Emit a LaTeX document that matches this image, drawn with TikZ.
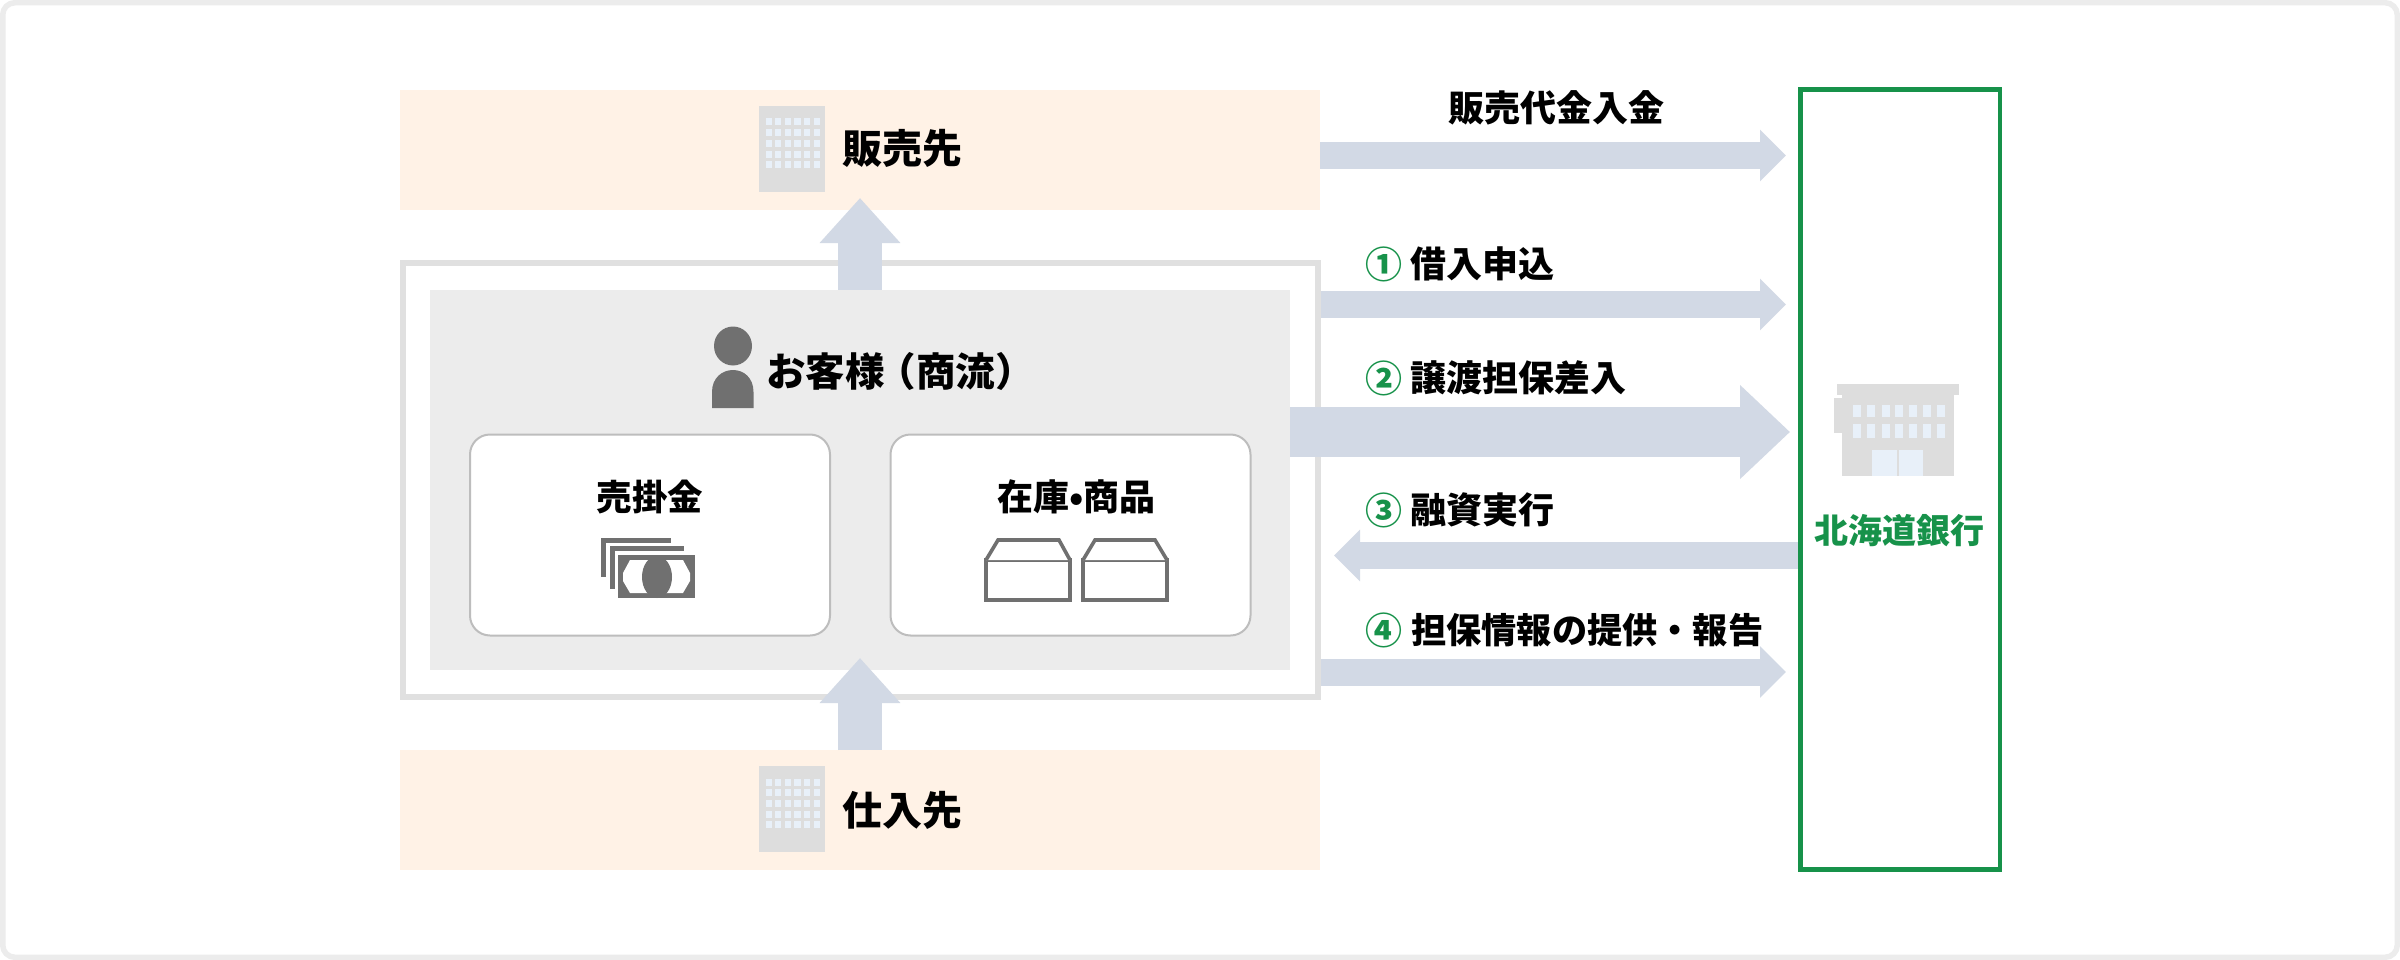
\documentclass[tikz,border=0pt]{standalone}
\usepackage{fontspec}
\setmainfont{Noto Sans CJK JP}
\usetikzlibrary{arrows.meta}
\definecolor{partner}{HTML}{FFF2E6}
\definecolor{inner}{HTML}{ECECEC}
\definecolor{frameg}{HTML}{E0E0E0}
\definecolor{flowc}{HTML}{D2D9E5}
\definecolor{bldg}{HTML}{DDDDDD}
\definecolor{wind}{HTML}{E8F0F9}
\definecolor{icong}{HTML}{707070}
\definecolor{bank}{HTML}{17924A}
\definecolor{cardl}{HTML}{BDBDBD}
\newcommand{\fs}[1]{\fontsize{#1}{#1}\selectfont\bfseries}
\tikzset{
  partnerbox/.style={fill=partner,draw=none,minimum width=920pt,minimum height=120pt,inner sep=0pt,outer sep=0pt},
  cardbox/.style={fill=white,draw=cardl,line width=2pt,rounded corners=20pt,minimum width=360pt,minimum height=201pt,inner sep=0pt},
  lbl/.style={inner sep=0pt,text=black,anchor=center},
  lblw/.style={inner sep=0pt,text=black,anchor=west},
  num/.style={inner sep=0pt,text=bank,anchor=center},
  flow/.style={draw=flowc,line width=27pt,-{Triangle[width=50pt,length=26pt,color=flowc]}},
  flowbig/.style={draw=flowc,line width=50pt,-{Triangle[width=91pt,length=50pt,color=flowc]}},
  flowup/.style={draw=flowc,line width=44pt,-{Triangle[width=78pt,length=45pt,color=flowc]}},
  iconline/.style={draw=icong,line width=3.6pt,fill=white,line join=miter}
}
\newcommand{\tower}[2]{%
  \fill[bldg] (#1,#2) rectangle ++(66,86);
  \foreach \i in {0,...,5}{\foreach \j in {0,...,4}{%
    \fill[wind] ({#1+6.5+\i*9.65},{#2+12.5+\j*10.7}) rectangle ++(6.2,7);}}%
}
\begin{document}
\begin{tikzpicture}[x=1pt,y=-1pt]
\useasboundingbox (0,0) rectangle (2400,960);
\fill[white] (0,0) rectangle (2400,960);
\draw[draw=inner,line width=5.5pt,rounded corners=12pt] (2.75,2.75) rectangle (2397.25,957.25);

% partners
\node[partnerbox] (seller) at (860,150) {};
\node[partnerbox] (supplier) at (860,810) {};

% customer frame
\node[draw=frameg,line width=6pt,fill=white,minimum width=915pt,minimum height=434pt,inner sep=0pt] (frame) at (860,479.5) {};
\node[fill=inner,minimum width=860pt,minimum height=380pt,inner sep=0pt,outer sep=0pt] (customer) at (860,479.5) {};

% bank
\node[draw=bank,line width=4.5pt,fill=white,minimum width=199.5pt,minimum height=780pt,inner sep=0pt,outer sep=0pt] (bankbox) at (1900,479.5) {};

% flows
\coordinate (t0) at (1786,155.5);
\coordinate (t1) at (1786,304.5);
\coordinate (t2) at (1790,432);
\coordinate (t3) at (1334,555.5);
\coordinate (t4) at (1786,672);
\coordinate (upT) at (860,198);
\coordinate (upB) at (860,658);
\draw[flowup] (customer.north -| upT) -- (upT);
\draw[flowup] (supplier.north -| upB) -- (upB);
\draw[flow] (seller.east |- t0) -- (t0);
\draw[flow] (frame.east |- t1) -- (t1);
\draw[flowbig] (customer.east |- t2) -- (t2);
\draw[flow] (bankbox.west |- t3) -- (t3);
\draw[flow] (frame.east |- t4) -- (t4);
\draw[draw=bank,line width=4.5pt] (bankbox.north west) rectangle (bankbox.south east);

% cards
\node[cardbox] (cardA) at (650,535) {};
\node[cardbox] (cardB) at (1070.5,535) {};

% building icons
\tower{759}{106}
\tower{759}{766}

% person
\fill[icong] (733,346) ellipse [x radius=19,y radius=19.5];
\fill[icong] (712,408) -- (712,392) .. controls (712,378) and (722,370) .. (733,370) .. controls (744,370) and (753.5,378) .. (753.5,392) -- (753.5,408) -- cycle;

% money
\fill[icong] (601,538) rectangle (671,543);
\fill[icong] (601,538) rectangle (606,577);
\fill[icong] (610,546) rectangle (684,551);
\fill[icong] (610,546) rectangle (615,589);
\fill[icong] (618,555) rectangle (695,598);
\fill[white] (630,560) -- (683,560) -- (690,573) -- (690,581) -- (683,593) -- (630,593) -- (623,581) -- (623,573) -- cycle;
\fill[icong] (657,577) ellipse [x radius=15,y radius=21];

% boxes
\foreach \xa/\xb/\ta/\tb in {986/1070/998/1059,1083/1167/1095/1155}{
  \draw[iconline] (\xa,560) rectangle (\xb,600);
  \draw[iconline] (\xa,560) -- (\ta,540) -- (\tb,540) -- (\xb,560);
}

% bank icon
\fill[bldg] (1837,384) rectangle (1959,395);
\fill[bldg] (1842,395) rectangle (1954,476);
\fill[bldg] (1834,398) rectangle (1842,433);
\foreach \wx in {1853,1867,1881.5,1895,1909,1922.5,1936.5}{
  \fill[wind] (\wx,405) rectangle ++(8,12);
  \fill[wind] (\wx,424) rectangle ++(8,14);
}
\fill[wind] (1872,450) rectangle (1897,476);
\fill[wind] (1899,450) rectangle (1923,476);

% labels
\node[lblw] (tSeller) at (842,148) {\fs{40}販売先};
\node[lblw] (tSupplier) at (842,810) {\fs{40}仕入先};
\node[lblw] (tCustomer) at (766,371) {\fs{39.5}お客様\kern-8pt（商流）};
\node[lbl] (tA) at (650,497) {\fs{35.5}売掛金};
\node[lbl] (tB) at (1076.5,497) {\fs{36}在庫•商品};
\node[lbl] (tIn) at (1556.5,108) {\fs{36}販売代金入金};
\node[num] (n1) at (1384,264) {\fs{37}①};
\node[num] (n2) at (1384,378) {\fs{37}②};
\node[num] (n3) at (1384,510) {\fs{37}③};
\node[num] (n4) at (1384,630) {\fs{37}④};
\node[lblw] (l1) at (1410,264) {\fs{36}借入申込};
\node[lblw] (l2) at (1410,378) {\fs{36}譲渡担保差入};
\node[lblw] (l3) at (1410,510) {\fs{36}融資実行};
\node[lblw] (l4) at (1411,630) {\fs{35.2}担保情報の提供・報告};
\node[inner sep=0pt,text=bank] (tBank) at (1899.5,531) {\fs{34}北海道銀行};
\end{tikzpicture}
\end{document}
